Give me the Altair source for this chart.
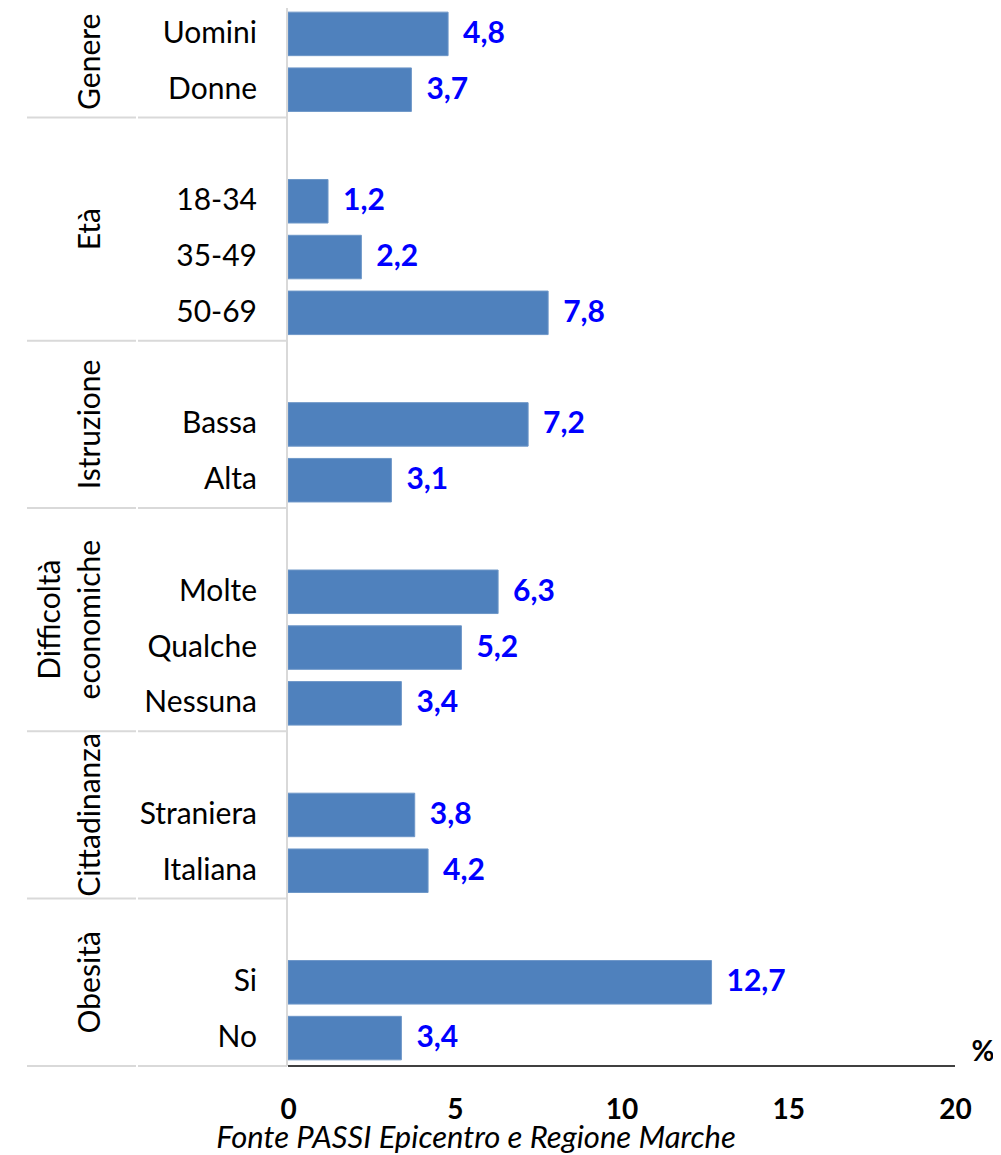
import altair as alt
import pandas as pd

# ---- data ----
categories = ["Uomini", "Donne", "", "18-34", "35-49", "50-69", "", "Bassa", "Alta", "",
              "Molte", "Qualche", "Nessuna", "", "Straniera", "Italiana", "", "Si", "No"]
values = [4.8, 3.7, None, 1.2, 2.2, 7.8, None, 7.2, 3.1, None,
          6.3, 5.2, 3.4, None, 3.8, 4.2, None, 12.7, 3.4]
group_names = ["Genere", "Età", "Istruzione", "Difficoltà economiche", "Cittadinanza", "Obesità"]
group_sizes = [2, 4, 3, 4, 3, 3]
x_ticks = [0, 5, 10, 15, 20]
source_note = "Fonte PASSI Epicentro e Regione Marche"

FONT = "Lato"
BAR = "#4F81BD"
LBL = "#0000FF"
SEP = "#D9D9D9"

rows = pd.DataFrame({"idx": list(range(len(categories))), "cat": categories, "val": values})
bars_df = rows.dropna(subset=["val"]).reset_index(drop=True)

bounds = [0]
for s in group_sizes:
    bounds.append(bounds[-1] + s)
# group labels: a two-word one is split over two lines (line 0 = last line)
g_text, g_mid, g_line = [], [], []
for i, name in enumerate(group_names):
    parts = name.split(" ")
    mid = (bounds[i] + bounds[i + 1]) / 2
    for k, p in enumerate(parts):
        g_text.append(p)
        g_mid.append(mid)
        g_line.append(k - (len(parts) - 1))
groups_df = pd.DataFrame({"name": g_text, "mid": g_mid, "line": g_line})
n = len(categories)
bounds_df = pd.DataFrame({"b": bounds})
frame_df = pd.DataFrame({"ytop": [0], "ybot": [n], "xa": [0], "xb": [20]})

yscale = alt.Scale(domain=[0.036, n + 0.036], reverse=True, nice=False, zero=False, padding=0)
xscale = alt.Scale(domain=[0, 20], nice=False, zero=False, padding=0)
xaxis = alt.Axis(values=x_ticks, grid=False, ticks=False, domain=False,
                 labelFont=FONT, labelFontSize=28, labelFontWeight="bold",
                 labelColor="black", labelPadding=28, labelFlush=False,
                 labelOverlap=False, title=None)

bars = alt.Chart(bars_df).transform_calculate(
    y0="datum.idx + 0.11", y1="datum.idx + 0.89", zero="0"
).mark_bar(color=BAR, stroke="#6E97C8", strokeWidth=1).encode(
    x=alt.X("zero:Q", scale=xscale, axis=xaxis),
    x2=alt.X2("val:Q"),
    y=alt.Y("y0:Q", scale=yscale, axis=None),
    y2=alt.Y2("y1:Q"),
)

vlabels = alt.Chart(bars_df).transform_calculate(
    yc="datum.idx + 0.5",
    txt="replace(format(datum.val, '.1f'), '.', ',')",
).mark_text(align="left", baseline="middle", dx=15, font=FONT, fontSize=30,
            fontWeight="bold", color=LBL).encode(
    x=alt.X("val:Q", scale=xscale, axis=xaxis),
    y=alt.Y("yc:Q", scale=yscale, axis=None),
    text=alt.Text("txt:N"),
)

catlabels = alt.Chart(rows).transform_calculate(
    yc="datum.idx + 0.5"
).mark_text(align="right", baseline="middle", font=FONT, fontSize=30, color="black").encode(
    x=alt.value(-31),
    y=alt.Y("yc:Q", scale=yscale, axis=None),
    text=alt.Text("cat:N"),
)

grp_layers = []
for ln in sorted(set(g_line)):
    grp_layers.append(
        alt.Chart(groups_df).transform_filter(f"datum.line == {ln}").mark_text(
            angle=270, align="center", baseline="alphabetic", font=FONT, fontSize=30,
            color="black"
        ).encode(
            x=alt.value(-188 + ln * 40),
            y=alt.Y("mid:Q", scale=yscale, axis=None),
            text=alt.Text("name:N"),
        )
    )

sep_left = alt.Chart(bounds_df).mark_rule(color=SEP, strokeWidth=2).encode(
    x=alt.value(-261), x2=alt.value(-152), y=alt.Y("b:Q", scale=yscale, axis=None))
sep_right = alt.Chart(bounds_df).mark_rule(color=SEP, strokeWidth=2).encode(
    x=alt.value(-150), x2=alt.value(-1), y=alt.Y("b:Q", scale=yscale, axis=None))

vline = alt.Chart(frame_df).mark_rule(color=SEP, strokeWidth=2).encode(
    x=alt.value(-1), y=alt.Y("ytop:Q", scale=yscale, axis=None), y2=alt.Y2("ybot:Q"))

baseline = alt.Chart(frame_df).mark_rule(color="black", strokeWidth=1.5).encode(
    x=alt.X("xa:Q", scale=xscale, axis=xaxis), x2=alt.X2("xb:Q"),
    y=alt.Y("ybot:Q", scale=yscale, axis=None))

pct = alt.Chart(frame_df).mark_text(
    align="center", baseline="middle", font=FONT, fontSize=28, fontWeight="bold",
    color="black", text="%"
).encode(x=alt.value(695), y=alt.value(1045))

note = alt.Chart(frame_df).mark_text(
    align="center", baseline="alphabetic", font=FONT, fontSize=31, fontStyle="italic",
    color="black", text=source_note
).encode(x=alt.value(188), y=alt.value(1140))

chart = alt.layer(
    bars, sep_left, sep_right, vline, baseline, vlabels, catlabels, *grp_layers, pct, note
).properties(
    width=667, height=1060,
    autosize=alt.AutoSizeParams(type="none"),
    padding={"left": 280, "top": 0, "right": 38, "bottom": 87},
).configure_view(strokeWidth=0)

chart.save("out.html", embed_options={"renderer": "svg", "actions": False})
